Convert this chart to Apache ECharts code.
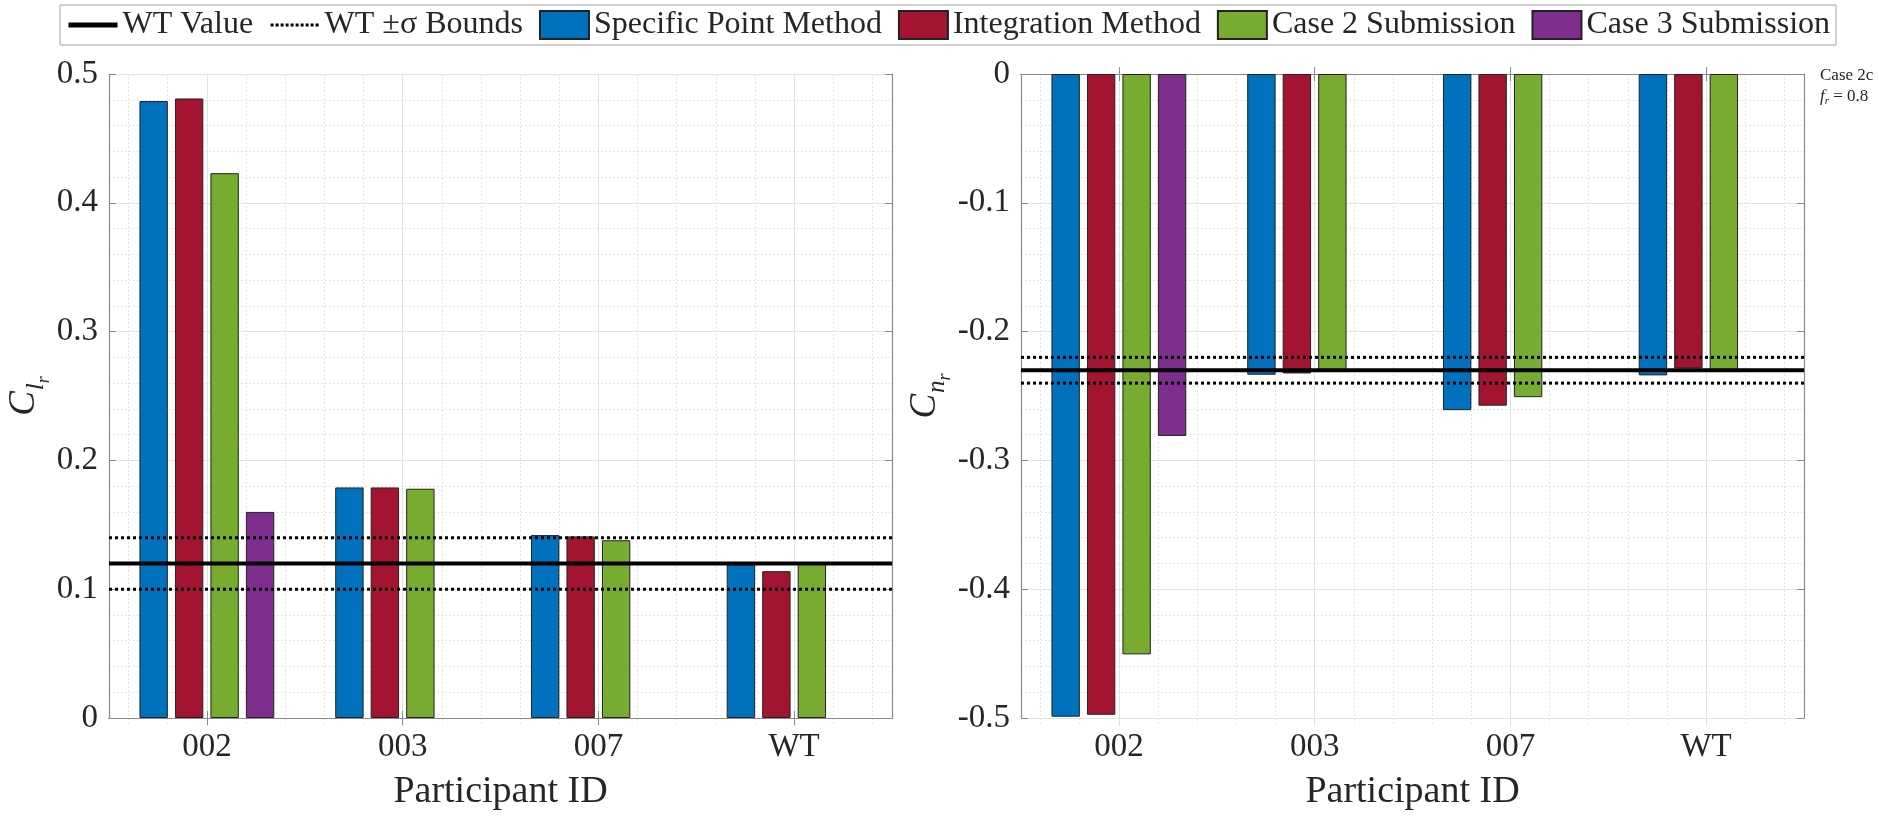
<!DOCTYPE html>
<html>
<head>
<meta charset="utf-8">
<script src="https://cdn.jsdelivr.net/npm/echarts@6/dist/echarts.min.js"></script>
<style>
html,body{margin:0;padding:0;background:#fff;}
#chart{width:1879px;height:816px;}
</style>
</head>
<body>
<div id="chart"></div>
<script>
// ---------------- data ----------------
const categories = ['002', '003', '007', 'WT'];
const seriesNames = ['Specific Point Method', 'Integration Method', 'Case 2 Submission', 'Case 3 Submission'];
const clSpecific    = [0.479, 0.179, 0.142, 0.119];
const clIntegration = [0.481, 0.179, 0.141, 0.114];
const clCase2       = [0.423, 0.178, 0.138, 0.120];
const clCase3       = [0.160, null, null, null];
const clWT = [0.12];
const clBounds = [0.10, 0.14];
const cnSpecific    = [-0.499, -0.2335, -0.261, -0.234];
const cnIntegration = [-0.4975, -0.2325, -0.2575, -0.2286];
const cnCase2       = [-0.4506, -0.2302, -0.2509, -0.2302];
const cnCase3       = [-0.281, null, null, null];
const cnWT = [-0.23];
const cnBounds = [-0.24, -0.22];
const clRange = [0, 0.5];
const cnRange = [-0.5, 0];
const yStep = [0.1];

// ---------------- styles ----------------
const FONT = '"Liberation Serif", "DejaVu Serif", serif';
const TXT = '#262626';
const AXC = '#8a8a8a';
const colors = ['#0072BD', '#A2142F', '#77AC30', '#7E2F8E'];

const plotTop = 74, plotH = 652, plotW = 783;
const plotLefts = [109, 1021];
const cw = plotW / categories.length;

const grids = [];
plotLefts.forEach(l => grids.push({left: l, top: plotTop, width: plotW, height: plotH}));
// minor vertical gridline overlays (every 0.2 category units from 0.6 to 4.4)
plotLefts.forEach(l => grids.push({left: l + 0.1 * cw, top: plotTop, width: plotW - 0.2 * cw, height: plotH}));
// major vertical gridline overlays (at category centres)
plotLefts.forEach(l => grids.push({left: l + 0.5 * cw, top: plotTop, width: plotW - cw, height: plotH}));

const xAxes = [], yAxes = [];
const ranges = [clRange, cnRange];
for (let g = 0; g < 2; g++) {
  xAxes.push({
    type: 'category', gridIndex: g, data: categories, position: 'bottom',
    axisLine: {show: true, lineStyle: {color: AXC, width: 1.2}},
    axisTick: {show: true, inside: true, alignWithLabel: true, length: 7, lineStyle: {color: AXC}},
    axisLabel: {fontFamily: FONT, fontSize: 33, color: TXT, margin: 13},
    splitLine: {show: false},
    name: 'Participant ID', nameLocation: 'middle', nameGap: 55,
    nameTextStyle: {fontFamily: FONT, fontSize: 38, color: TXT}
  });
  xAxes.push({
    type: 'category', gridIndex: g, data: categories, position: 'top',
    axisLine: {show: true, lineStyle: {color: AXC, width: 1.2}},
    axisTick: {show: true, inside: true, alignWithLabel: true, length: 7, lineStyle: {color: AXC}},
    axisLabel: {show: false}, splitLine: {show: false}
  });
  xAxes.push({type: 'value', gridIndex: g, min: 0, max: 1, show: false});

  const r = ranges[g];
  yAxes.push({
    type: 'value', gridIndex: g, min: r[0], max: r[1], interval: yStep[0], position: 'left',
    axisLine: {show: true, lineStyle: {color: AXC, width: 1.2}},
    axisTick: {show: true, inside: true, length: 7, lineStyle: {color: AXC}},
    axisLabel: {fontFamily: FONT, fontSize: 33, color: TXT, margin: 11},
    splitLine: {show: true, lineStyle: {color: '#e2e2e2', width: 1}},
    minorTick: {show: false, splitNumber: 5},
    minorSplitLine: {show: true, lineStyle: {color: '#e4e4e4', width: 1, type: [2, 2]}},
    name: g === 0 ? '{c|C}{s|l}{ss|r}' : '{c|C}{s|n}{ss|r}',
    nameLocation: 'middle', nameGap: g === 0 ? 49 : 57, nameRotate: 90,
    nameTextStyle: {
      color: TXT,
      rich: {
        c: {fontFamily: FONT, fontStyle: 'italic', fontSize: 37, color: TXT, verticalAlign: 'bottom', padding: [0, 1, 10, 0]},
        s: {fontFamily: FONT, fontStyle: 'italic', fontSize: 25, color: TXT, verticalAlign: 'bottom', padding: [0, 0, 4, 0]},
        ss: {fontFamily: FONT, fontStyle: 'italic', fontSize: 18, color: TXT, verticalAlign: 'bottom', padding: [0, 0, 0, 0]}
      }
    }
  });
  yAxes.push({
    type: 'value', gridIndex: g, min: r[0], max: r[1], interval: yStep[0], position: 'right',
    axisLine: {show: true, lineStyle: {color: AXC, width: 1.2}},
    axisTick: {show: true, inside: true, length: 7, lineStyle: {color: AXC}},
    axisLabel: {show: false}, splitLine: {show: false}
  });
}
for (let g = 2; g < 6; g++) {
  const isMinor = g < 4;
  const maxV = isMinor ? (categories.length * 5 - 1) : (categories.length - 1);
  xAxes.push({
    type: 'value', gridIndex: g, min: 0, max: maxV, interval: 1,
    axisLine: {show: false}, axisTick: {show: false}, axisLabel: {show: false},
    splitLine: {show: true, lineStyle: isMinor ? {color: '#e4e4e4', width: 1, type: [2, 2]} : {color: '#e2e2e2', width: 1}}
  });
  yAxes.push({type: 'value', gridIndex: g, min: 0, max: 1, show: false});
}

const series = [];
const barData = [[clSpecific, clIntegration, clCase2, clCase3], [cnSpecific, cnIntegration, cnCase2, cnCase3]];
for (let g = 0; g < 2; g++) {
  barData[g].forEach((d, i) => {
    series.push({
      name: seriesNames[i], type: 'bar', xAxisIndex: g * 3, yAxisIndex: g * 2,
      data: d, barWidth: '14.5%', barGap: '25%',
      itemStyle: {color: colors[i], borderColor: '#222', borderWidth: 1},
      z: 3
    });
  });
}
const noSym = {color: 'rgba(0,0,0,0)', borderColor: 'rgba(0,0,0,0)', borderWidth: 0};
const wtSets = [[clWT, clBounds], [cnWT, cnBounds]];
for (let g = 0; g < 2; g++) {
  const [wt, bounds] = wtSets[g];
  series.push({
    name: 'WT Value', type: 'line', xAxisIndex: g * 3 + 2, yAxisIndex: g * 2,
    data: [[0, wt[0]], [1, wt[0]]], symbol: 'none', silent: true,
    lineStyle: {color: '#000', width: 4, type: 'solid'}, itemStyle: noSym, z: 5
  });
  bounds.forEach(b => {
    series.push({
      name: 'WT \u00B1\u03C3 Bounds', type: 'line', xAxisIndex: g * 3 + 2, yAxisIndex: g * 2,
      data: [[0, b], [1, b]], symbol: 'none', silent: true,
      lineStyle: {color: '#000', width: 3, type: [3, 3]}, itemStyle: noSym, z: 5
    });
  });
}

const option = {
  animation: false,
  backgroundColor: '#fff',
  grid: grids,
  xAxis: xAxes,
  yAxis: yAxes,
  series: series,
  legend: {
    left: 60, top: 5,
    itemWidth: 49, itemHeight: 28, itemGap: 16,
    padding: [4, 6],
    borderColor: '#a0a0a0', borderWidth: 1,
    textStyle: {fontFamily: FONT, fontSize: 32, color: TXT},
    data: [
      {name: 'WT Value', itemStyle: noSym, lineStyle: {color: '#000', width: 5, type: 'solid'}},
      {name: 'WT \u00B1\u03C3 Bounds', itemStyle: noSym, lineStyle: {color: '#000', width: 3, type: [3, 2]}}
    ].concat(seriesNames.map(n => ({name: n, icon: 'rect'})))
  },
  title: {
    left: 1815, top: 60,
    text: '{n|Case 2c}\n{f|f}{fs|r}{n| = 0.8}',
    textStyle: {
      fontWeight: 'normal',
      rich: {
        n: {fontFamily: FONT, fontSize: 17, fontWeight: 'normal', color: TXT, lineHeight: 21},
        f: {fontFamily: FONT, fontSize: 17, fontWeight: 'normal', fontStyle: 'italic', color: TXT, lineHeight: 21},
        fs: {fontFamily: FONT, fontSize: 11, fontWeight: 'normal', fontStyle: 'italic', color: TXT, verticalAlign: 'bottom', lineHeight: 21}
      }
    }
  }
};

const chart = echarts.init(document.getElementById('chart'), null, {renderer: 'canvas'});
chart.setOption(option);
</script>
</body>
</html>
